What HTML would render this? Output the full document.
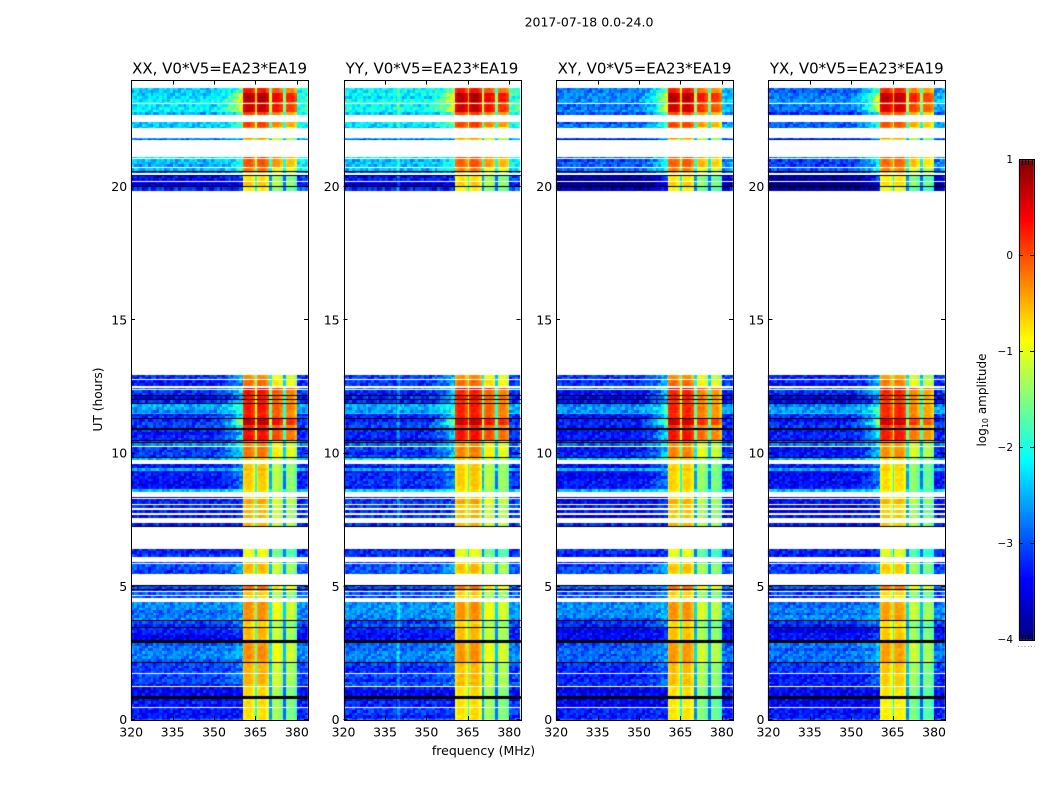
<!DOCTYPE html>
<html lang="en">
<head>
<meta charset="utf-8">
<title>2017-07-18 0.0-24.0</title>
<style>
  html, body { margin: 0; padding: 0; background: #fff; }
  #figure { position: relative; width: 1050px; height: 800px; overflow: hidden; background: #fff; }
  #heat, #overlay { position: absolute; left: 0; top: 0; }
  text { font-family: "DejaVu Sans", "Liberation Sans", sans-serif; fill: #000; }
</style>
</head>
<body>
<div id="figure">
  <canvas id="heat" width="1050" height="800"></canvas>
  <svg id="overlay" width="1050" height="800" viewBox="0 0 1050 800">
    <text x="589" y="26.5" font-size="12.5" text-anchor="middle">2017-07-18 0.0-24.0</text>
    <text x="483.5" y="755" font-size="12.5" text-anchor="middle">frequency (MHz)</text>
    <text transform="translate(102 399.5) rotate(-90)" font-size="12.2" text-anchor="middle">UT (hours)</text>
    <text transform="translate(986 400) rotate(-90)" font-size="12" text-anchor="middle">log<tspan font-size="8" dy="2">10</tspan><tspan dy="-2"> amplitude</tspan></text>
  </svg>
</div>
<script>
// ---- panels ----
const panelNames = ['XX', 'YY', 'XY', 'YX'];
const panelTitle = 'V0*V5=EA23*EA19';

// ---- axis ticks ----
const freqTicks = [320, 335, 350, 365, 380];
const timeTicks = [0, 5, 10, 15, 20];
const colorTicks = [1, 0, -1, -2, -3, -4];

// ---- observed time blocks (UT hours); gaps between blocks are flagged data ----
const rowStart = [0.00,0.08,0.49,0.91,1.26,1.76,2.19,3.00,3.49,3.75,4.57,4.69,4.84,4.90,5.00,5.47,5.53,5.90,6.12,
  7.29,7.59,7.75,7.97,8.12,8.34,8.56,8.68,9.35,9.45,9.75,9.86,10.30,10.42,10.50,10.94,11.06,11.32,11.50,11.54,11.89,12.03,12.18,12.42,12.55,12.78,
  19.87,20.03,20.24,20.52,20.62,20.76,21.08,21.75,21.81,22.20,22.27,22.69,22.80,23.15,23.20,23.53];
const rowEnd = [0.06,0.45,0.80,1.22,1.72,2.14,2.89,3.45,3.71,4.41,4.65,4.80,4.88,4.98,5.05,5.50,5.87,5.93,6.43,
  7.38,7.70,7.87,8.06,8.30,8.36,8.68,9.35,9.45,9.60,9.82,10.24,10.38,10.46,10.90,11.06,11.28,11.50,11.54,11.85,12.00,12.15,12.37,12.47,12.75,12.93,
  20.00,20.20,20.42,20.57,20.73,21.04,21.12,21.79,21.85,22.27,22.46,22.80,23.10,23.20,23.53,23.72];
const rowBackground = [-3.2,-3.25,-3.3,-3.35,-3.15,-3.15,-2.85,-3.35,-3.05,-2.75,-3.05,-3.05,-3.1,-3.0,-3.0,-3.1,-3.0,-3.1,-3.15,
  -3.3,-3.3,-3.3,-3.3,-3.3,-3.45,-2.5,-3.3,-2.5,-3.25,-2.4,-3.2,-2.85,-3.0,-3.3,-3.15,-3.2,-3.2,-2.4,-2.6,-3.3,-3.3,-3.2,-2.8,-3.2,-3.2,
  -3.25,-3.7,-3.3,-2.9,-2.5,-2.45,-2.3,-3.0,-2.4,-2.35,-2.4,-2.5,-2.25,-2.0,-2.25,-2.35];
const rowBand = [-0.7,-0.7,-0.7,-0.65,-0.5,-0.5,-0.3,-0.5,-0.6,-0.3,-0.7,-0.6,-0.4,-0.1,-0.1,-0.7,-0.5,-0.7,-0.9,
  -0.5,-0.5,-0.5,-0.6,-0.4,-0.6,-0.7,-0.6,-0.5,-0.6,-0.5,-0.2,-0.3,-0.2,0.35,0.2,0.7,0.3,0.2,0.3,0.2,0.35,0.3,0.5,-0.1,-0.3,
  -0.8,-0.6,-0.7,-0.4,-0.2,0.0,0.1,-0.6,-0.3,-0.1,0.1,0.1,0.65,0.2,0.8,0.3];
const rowLeak = [0.0,0.0,0.0,0.0,0.4,0.3,0.3,0.2,0.4,0.2,0.2,0.3,0.2,0.4,0.4,0.2,0.6,0.2,0.0,
  0.0,0.2,0.2,0.2,0.2,0.0,0.4,0.6,0.3,0.5,0.7,1.0,0.7,0.5,1.1,1.0,2.0,1.1,0.9,0.8,0.9,0.9,1.0,0.8,0.8,0.7,
  0.0,0.2,0.3,0.4,0.6,0.5,0.4,0.3,0.4,0.6,0.7,0.8,1.4,0.7,1.4,0.7];

// ---- rows that come out black (zero amplitude), UT hours ----
const deadStart = [0.80,2.14,2.89,3.45,3.71,4.88,5.05,7.25,9.82,10.38,10.46,10.90,11.28,11.85,12.00,12.15,19.99,20.42,20.58];
const deadEnd   = [0.91,2.19,3.00,3.49,3.75,4.91,5.08,7.29,9.86,10.42,10.50,10.94,11.32,11.89,12.03,12.18,20.03,20.45,20.61];

// ---- bright streaks across the background in single panels ----
const streakPanel = [0, 1, 1];
const streakStart = [23.49, 23.22, 23.30];
const streakEnd   = [23.53, 23.30, 23.36];
const streakLevel = [-0.9, -0.6, -1.0];

// ---- spectrum: sub-band edges (MHz) and per-panel gains relative to the band level ----
const subbandLow  = [360.5, 364.8, 365.4, 369.9, 370.8, 374.8, 375.8];
const subbandHigh = [364.8, 365.4, 369.9, 370.8, 374.8, 375.8, 380.0];
const gainXX = [0.00, -1.3, 0.00, -1.9, -0.35, -2.2, -0.55];
const gainYY = [-0.05, -1.3, 0.00, -1.9, -0.35, -2.2, -0.50];
const gainXY = [-0.05, -1.4, -0.05, -2.0, -0.50, -2.2, -0.65];
const gainYX = [-0.10, -1.4, -0.10, -2.0, -0.55, -2.2, -0.75];
const panelGains = [gainXX, gainYY, gainXY, gainYX];
const panelBackground = [0.0, 0.05, -0.05, -0.05];
const panelTopBackground = [0.0, 0.05, -0.5, -0.55];
// extra roll-off of the upper sub-bands while the band level is below 0
const upperBandDroop = -0.25;

// ---- leakage ramp below the band ----
const leakFreq = [350, 352, 354, 356, 358, 360, 360.5];
const leakGain = [0.0, 0.1, 0.2, 0.35, 0.6, 0.9, 1.0];

// ---- isolated interference channels ----
const rfiPanel = [1];
const rfiFreq = [340];
const rfiLift = [0.4];

// ---- fine-grain residuals, looked up per cell ----
const residuals = [0.3,-0.6,0.1,0.8,-0.2,-0.9,0.5,0.0,-0.4,0.7,-0.7,0.2,0.9,-0.3,-0.1,0.6,-0.8,0.4,-0.5,0.1,
  0.7,-1.0,0.3,-0.2,0.5,0.9,-0.6,0.0,-0.3,0.8,-0.7,0.2,0.4,-0.9,0.6,-0.1,-0.5,1.0,0.1,-0.4,
  0.3,-0.8,0.7,-0.2,0.0,0.5,-0.6,0.9,-0.3,0.2,-1.0,0.6,-0.1,0.4,-0.7,0.8,-0.4,0.1,0.5,-0.9,0.2];

// ---- layout ----
const axisLeft = [131.2, 343.6, 556.2, 768.4];
const axisWidth = 176.7;
const axisTop = 80.5;
const axisBottom = 720;
const FREQ_MIN = 320, FREQ_MAX = 384, FREQ_STEP = 0.5;
const TIME_MIN = 0, TIME_MAX = 24, ROW_STEP = 0.1;
const COLOR_MIN = -4, COLOR_MAX = 1;
const cbLeft = 1019, cbRight = 1034, cbTop = 160, cbBottom = 640;

function xScale(p, f) { return axisLeft[p] + (f - FREQ_MIN) / (FREQ_MAX - FREQ_MIN) * axisWidth; }
function yScale(t) { return axisBottom - (t - TIME_MIN) / (TIME_MAX - TIME_MIN) * (axisBottom - axisTop); }
function cbScale(v) { return cbBottom - (v - COLOR_MIN) / (COLOR_MAX - COLOR_MIN) * (cbBottom - cbTop); }

function clamp01(x) { return Math.max(0, Math.min(1, x)); }
function jet(v) {
  const x = clamp01((v - COLOR_MIN) / (COLOR_MAX - COLOR_MIN));
  const r = clamp01(Math.min(4 * x - 1.5, -4 * x + 4.5));
  const g = clamp01(Math.min(4 * x - 0.5, -4 * x + 3.5));
  const b = clamp01(Math.min(4 * x + 0.5, -4 * x + 2.5));
  return 'rgb(' + Math.round(r * 255) + ',' + Math.round(g * 255) + ',' + Math.round(b * 255) + ')';
}

function lookupLeak(f) {
  if (f < leakFreq[0]) return 0;
  for (let i = 1; i < leakFreq.length; i++) {
    if (f <= leakFreq[i]) {
      const a = (f - leakFreq[i - 1]) / (leakFreq[i] - leakFreq[i - 1]);
      return leakGain[i - 1] + a * (leakGain[i] - leakGain[i - 1]);
    }
  }
  return 1;
}

function subbandOf(f) {
  for (let i = 0; i < subbandLow.length; i++) {
    if (f >= subbandLow[i] && f < subbandHigh[i]) return i;
  }
  return -1;
}

function cellValue(p, seg, rowIndex, f) {
  const chan = Math.floor(f - FREQ_MIN);
  const n = residuals[(rowIndex * 11 + chan * 7 + p * 5) % residuals.length];
  const streak = residuals[(rowIndex * 13 + p * 3) % residuals.length];
  const isTop = rowStart[seg] > 19;
  const panelOffset = isTop ? panelTopBackground[p] : panelBackground[p];
  const bg = rowBackground[seg] + panelOffset;
  const sb = subbandOf(f);
  if (sb >= 0) {
    const isNotch = sb % 2 === 1;
    let v = rowBand[seg] + panelGains[p][sb];
    if (!isNotch) {
      const d = Math.min(f + FREQ_STEP / 2 - subbandLow[sb], subbandHigh[sb] - f - FREQ_STEP / 2);
      v -= 0.28 * (1 - clamp01(d / 1.2));
      if (sb >= 4 && rowBand[seg] < 0) v += upperBandDroop;
    }
    v += n * 0.07 + streak * 0.04;
    return Math.max(v, bg + 0.4);
  }
  let v = bg + n * 0.32 + streak * 0.16;
  if (f >= 380) {
    v += isTop ? 0.3 : 0.05;
  } else {
    const g = lookupLeak(f);
    v += rowLeak[seg] * g - panelOffset * g;
  }
  for (let i = 0; i < streakPanel.length; i++) {
    if (streakPanel[i] === p && rowStart[seg] < streakEnd[i] && rowEnd[seg] > streakStart[i]) {
      const inside = rowStart[seg] >= streakStart[i] && rowEnd[seg] <= streakEnd[i];
      if (inside) v = streakLevel[i];
    }
  }
  for (let i = 0; i < rfiPanel.length; i++) {
    if (rfiPanel[i] === p && Math.abs(f - rfiFreq[i]) < 0.3) v += rfiLift[i];
  }
  return v;
}

// ---- heatmaps ----
const ctx = document.getElementById('heat').getContext('2d');
function drawRow(p, seg, rowIndex, tLow, tHigh) {
  const yA = Math.round(yScale(tHigh));
  const yB = Math.max(yA + 1, Math.round(yScale(tLow)));
  for (let f = FREQ_MIN; f < FREQ_MAX; f += FREQ_STEP) {
    const xA = Math.round(xScale(p, f));
    const xB = Math.round(xScale(p, f + FREQ_STEP));
    if (xB <= xA) continue;
    ctx.fillStyle = jet(cellValue(p, seg, rowIndex, f + FREQ_STEP / 2));
    ctx.fillRect(xA, yA, xB - xA, yB - yA);
  }
}
for (let p = 0; p < panelNames.length; p++) {
  let rowIndex = 0;
  for (let seg = 0; seg < rowStart.length; seg++) {
    const count = Math.max(1, Math.round((rowEnd[seg] - rowStart[seg]) / ROW_STEP));
    const step = (rowEnd[seg] - rowStart[seg]) / count;
    for (let r = 0; r < count; r++) {
      drawRow(p, seg, rowIndex, rowStart[seg] + r * step, rowStart[seg] + (r + 1) * step);
      rowIndex++;
    }
  }
  ctx.fillStyle = '#000';
  for (let d = 0; d < deadStart.length; d++) {
    const yA = Math.round(yScale(deadEnd[d]));
    const yB = Math.max(yA + 1, Math.round(yScale(deadStart[d])));
    ctx.fillRect(Math.round(xScale(p, FREQ_MIN)), yA, Math.round(axisWidth), yB - yA);
  }
}

// ---- colorbar ramp ----
for (let y = cbTop; y < cbBottom; y++) {
  const v = COLOR_MAX - (y + 0.5 - cbTop) / (cbBottom - cbTop) * (COLOR_MAX - COLOR_MIN);
  ctx.fillStyle = jet(v);
  ctx.fillRect(cbLeft, y, cbRight - cbLeft, 1);
}

// ---- SVG axes ----
const overlay = document.getElementById('overlay');
const SVG_NS = 'http://www.w3.org/2000/svg';
function svgEl(tag, attrs, text) {
  const el = document.createElementNS(SVG_NS, tag);
  for (const k in attrs) el.setAttribute(k, attrs[k]);
  if (text !== undefined) el.textContent = text;
  overlay.appendChild(el);
  return el;
}
function tickMark(x1, y1, x2, y2) {
  return svgEl('line', { x1: x1, y1: y1, x2: x2, y2: y2, stroke: '#000', 'stroke-width': 1, 'shape-rendering': 'crispEdges' });
}

for (let p = 0; p < panelNames.length; p++) {
  const left = xScale(p, FREQ_MIN);
  const right = left + axisWidth;
  const frame = svgEl('rect', { x: Math.round(left) + 0.5, y: Math.round(axisTop) - 0.5, width: Math.round(axisWidth), height: Math.round(axisBottom - axisTop), fill: 'none', stroke: '#000', 'stroke-width': 1, 'shape-rendering': 'crispEdges' });
  
  

  const title = svgEl('text', { x: left + axisWidth / 2, y: 73.5, 'font-size': 15, 'text-anchor': 'middle' }, panelNames[p] + ', ' + panelTitle);
  
  

  for (let i = 0; i < freqTicks.length; i++) {
    const x = Math.round(xScale(p, freqTicks[i])) + 0.5;
    const bottomTick = tickMark(x, axisBottom, x, axisBottom - 4);
    
    
    const topTick = tickMark(x, axisTop, x, axisTop + 4);
    
    
    const label = svgEl('text', { x: xScale(p, freqTicks[i]), y: 736.5, 'font-size': 12.5, 'text-anchor': 'middle' }, String(freqTicks[i]));
    
    
  }
  for (let i = 0; i < timeTicks.length; i++) {
    const y = Math.round(yScale(timeTicks[i])) - 0.5;
    const leftTick = tickMark(left, y, left + 4, y);
    
    
    const rightTick = tickMark(right, y, right - 4, y);
    
    
    const label = svgEl('text', { x: left - 4, y: yScale(timeTicks[i]) + 4, 'font-size': 12.5, 'text-anchor': 'end' }, String(timeTicks[i]));
    
    
  }
}

// ---- colorbar frame, ticks, labels ----
const cbFrame = svgEl('rect', { x: cbLeft + 0.5, y: cbTop - 0.5, width: cbRight - cbLeft, height: cbBottom - cbTop + 1, fill: 'none', stroke: '#000', 'stroke-width': 1, 'shape-rendering': 'crispEdges' });



for (let i = 0; i < colorTicks.length; i++) {
  const v = colorTicks[i];
  const y = Math.round(cbScale(v)) - 0.5;
  if (v !== COLOR_MAX && v !== COLOR_MIN) {
    const tickL = tickMark(cbLeft, y, cbLeft + 4, y);
    
    
    const tickR = tickMark(cbRight, y, cbRight - 4, y);
    
    
  }
  const label = svgEl('text', { x: 1013, y: cbScale(v) + 3, 'font-size': 10.5, 'text-anchor': 'end' }, v < 0 ? '\u2212' + Math.abs(v) : String(v));
  
  
}
const cbMinorOffsets = [2.7, 6, 9.3, 12.7];
for (let i = 0; i < cbMinorOffsets.length; i++) {
  const x = Math.round(cbLeft + cbMinorOffsets[i]) + 0.5;
  const tickTop = tickMark(x, cbTop, x, cbTop + 5);
  
  
  const tickBottom = tickMark(x, cbBottom, x, cbBottom - 5);
  
  
}
const cbDots = svgEl('line', { x1: 1018, y1: 646.5, x2: 1035, y2: 646.5, stroke: '#999', 'stroke-width': 1, 'stroke-dasharray': '1 2.3', 'shape-rendering': 'crispEdges' });


</script>
</body>
</html>
